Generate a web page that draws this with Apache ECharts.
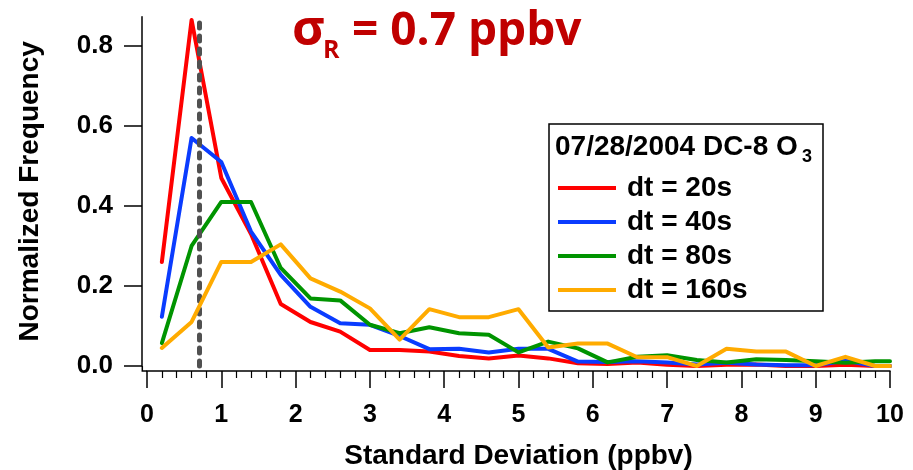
<!DOCTYPE html>
<html>
<head>
<meta charset="utf-8">
<script src="https://cdn.jsdelivr.net/npm/echarts@6/dist/echarts.min.js"></script>
<style>
html,body{margin:0;padding:0;background:#fff;}
#chart{width:913px;height:470px;}
</style>
</head>
<body>
<div id="chart"></div>
<script>
// ---- data ----
const xValues = [0.2,0.6,1.0,1.4,1.8,2.2,2.6,3.0,3.4,3.8,4.2,4.6,5.0,5.4,5.8,6.2,6.6,7.0,7.4,7.8,8.2,8.6,9.0,9.4,9.8,10.0];
const dt20  = [0.26,0.865,0.47,0.33,0.155,0.11,0.086,0.04,0.04,0.036,0.025,0.019,0.026,0.019,0.007,0.005,0.009,0.003,0.0,0.003,0.004,0.0,0.0,0.003,0.0,0.0];
const dt40  = [0.123,0.57,0.51,0.336,0.228,0.148,0.107,0.103,0.075,0.042,0.043,0.034,0.043,0.043,0.011,0.01,0.012,0.009,0.004,0.008,0.004,0.002,0.002,0.013,0.0,0.0];
const dt80  = [0.057,0.30,0.41,0.41,0.245,0.169,0.164,0.103,0.082,0.097,0.082,0.078,0.034,0.061,0.044,0.009,0.023,0.027,0.015,0.009,0.017,0.015,0.012,0.008,0.012,0.012];
const dt160 = [0.045,0.11,0.26,0.26,0.304,0.219,0.186,0.144,0.066,0.142,0.122,0.122,0.142,0.046,0.056,0.056,0.022,0.022,0.0,0.043,0.036,0.036,0.0,0.023,0.0,0.0];
const seriesNames = ['dt = 20s','dt = 40s','dt = 80s','dt = 160s'];
const seriesColors = ['#ff0000','#0a3cff','#009400','#ffab00'];
const sigmaR = 0.7;
const xTicks = [0,1,2,3,4,5,6,7,8,9,10];
const yTicks = [0,0.2,0.4,0.6,0.8];
const yMax = 0.873;

const FONT = 'Liberation Sans, Arial, sans-serif';
const TFONT = '"Open Sans", Lato, sans-serif';
function pairs(ys){ return xValues.map((x,i)=>[x, ys[i]]); }
const allY = [dt20, dt40, dt80, dt160];

const series = allY.map((ys,i)=>({
  name: seriesNames[i],
  type: 'line',
  data: pairs(ys),
  showSymbol: false,
  symbol: 'none',
  lineStyle: {color: seriesColors[i], width: 4, join: 'round', cap: 'round'},
  itemStyle: {color: seriesColors[i]},
  emphasis: {disabled: true},
  animation: false,
  z: 2 + i
}));
series.push({
  name: 'sigma',
  type: 'line',
  data: [],
  z: 10,
  markLine: {
    silent: true,
    symbol: ['none','none'],
    label: {show: false},
    animation: false,
    lineStyle: {color: '#505050', width: 5, type: [5, 8], cap: 'round'},
    data: [{xAxis: sigmaR}]
  }
});

const chart = echarts.init(document.getElementById('chart'), null, {renderer: 'canvas'});
chart.setOption({
  animation: false,
  backgroundColor: '#fff',
  grid: {left: 147, right: 23, top: 16.7, bottom: 104, containLabel: false, outerBoundsMode: 'none'},
  xAxis: {
    type: 'value', min: 0, max: 10, interval: 1,
    offset: 5,
    name: 'Standard Deviation (ppbv)', nameLocation: 'middle', nameGap: 71,
    nameTextStyle: {fontFamily: FONT, fontWeight: 'bold', fontSize: 28, color: '#000'},
    axisLine: {show: true, onZero: false, lineStyle: {color: '#000', width: 1.5}},
    axisTick: {show: true, length: 17, lineStyle: {color: '#000', width: 1.5}, customValues: xTicks},
    minorTick: {show: true, splitNumber: 5, length: 7, lineStyle: {color: '#000', width: 1.2}},
    axisLabel: {fontFamily: FONT, fontWeight: 'bold', fontSize: 25, color: '#000', margin: 32, customValues: xTicks},
    splitLine: {show: false}
  },
  yAxis: {
    type: 'value', min: 0, max: yMax,
    offset: 5,
    name: 'Normalized Frequency', nameLocation: 'middle', nameGap: 98,
    nameTextStyle: {fontFamily: FONT, fontWeight: 'bold', fontSize: 28, color: '#000'},
    axisLine: {show: true, onZero: false, lineStyle: {color: '#000', width: 1.5}},
    axisTick: {show: true, length: 18, lineStyle: {color: '#000', width: 1.5}, customValues: yTicks},
    axisLabel: {fontFamily: FONT, fontWeight: 'bold', fontSize: 26, color: '#000', margin: 29,
      customValues: yTicks, formatter: v => v.toFixed(1)},
    splitLine: {show: false}
  },
  legend: {
    data: seriesNames,
    orient: 'vertical', left: 558, top: 174, padding: 0,
    itemWidth: 58, itemHeight: 4, itemGap: 6, icon: 'rect',
    selectedMode: false,
    textStyle: {fontFamily: FONT, fontWeight: 'bold', fontSize: 28, color: '#000', lineHeight: 28, padding: [0,0,0,6]}
  },
  graphic: [
    {type: 'rect', shape: {x: 549, y: 124, width: 274, height: 187}, style: {fill: 'none', stroke: '#000', lineWidth: 1.5}, z: 1},
    {type: 'text', x: 555, y: 147, style: {text: '07/28/2004 DC-8 O', font: 'bold 28px ' + FONT, fill: '#000', verticalAlign: 'middle', align: 'left'}},
    {type: 'text', x: 802, y: 157, style: {text: '3', font: 'bold 18px ' + FONT, fill: '#000', verticalAlign: 'middle', align: 'left'}},
    {type: 'text', x: 292, y: 31, style: {text: 'σ', font: 'bold 50px ' + TFONT, fill: '#c00000', verticalAlign: 'middle', align: 'left'}},
    {type: 'text', x: 323, y: 51, style: {text: 'R', font: 'bold 25px ' + TFONT, fill: '#c00000', verticalAlign: 'middle', align: 'left'}},
    {type: 'text', x: 352, y: 32, style: {text: '= 0.7 ppbv', font: 'bold 46px ' + TFONT, fill: '#c00000', verticalAlign: 'middle', align: 'left'}},
    {type: 'polyline', shape: {points: [[142.3, 366], [142.3, 371], [147, 371]]}, style: {stroke: '#000', lineWidth: 1.5, fill: 'none'}}
  ],
  series: series
});
</script>
</body>
</html>
